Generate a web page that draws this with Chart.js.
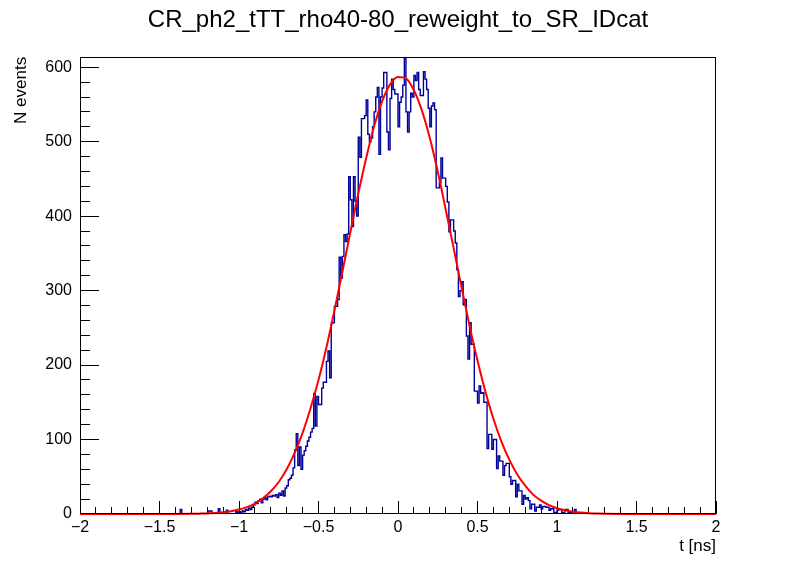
<!DOCTYPE html>
<html>
<head>
<meta charset="utf-8">
<script src="https://cdn.jsdelivr.net/npm/chart.js@4.4.1/dist/chart.umd.min.js"></script>
<style>
  html, body { margin: 0; padding: 0; background: #fff; }
  #wrap { width: 796px; height: 572px; }
</style>
</head>
<body>
<div id="wrap"><canvas id="c" width="796" height="572"></canvas></div>
<script>
const TITLE = 'CR_ph2_tTT_rho40-80_reweight_to_SR_IDcat';
const X_TITLE = 't [ns]';
const Y_TITLE = 'N events';

// histogram: bins of 0.01 ns over [-2, 2]; bins outside the listed run are empty
const X_MIN = -2, X_MAX = 2, Y_MAX = 614;
const BIN_WIDTH = 0.01;
const FIRST_FILLED_BIN = -1.40;
const counts = [
    0, 0, 0, 6, 0, 0, 0, 0, 0, 0,                       // -1.40
    0, 0, 0, 0, 0, 0, 0, 0, 0, 0,                       // -1.30
    0, 4, 4, 0, 0, 0, 0, 7, 0, 0,                       // -1.20
    0, 0, 5, 0, 0, 0, 0, 0, 3, 0,                       // -1.10
    3, 0, 4, 3, 6, 5, 8, 6, 9, 12,                      // -1.00
    16, 14, 18, 20, 15, 20, 22, 19, 23, 24,             // -0.90
    23, 25, 24, 26, 22, 28, 25, 31, 24, 35,             // -0.80
    38, 46, 48, 52, 62, 86, 108, 65, 90, 60,            // -0.70
    79, 85, 91, 98, 103, 110, 115, 162, 118, 158,       // -0.60
    147, 147, 169, 177, 177, 205, 219, 183, 256, 257,   // -0.50
    279, 279, 288, 345, 317, 346, 375, 366, 376, 453,   // -0.40
    422, 386, 453, 420, 400, 506, 479, 531, 531, 535,   // -0.30
    556, 510, 500, 505, 520, 540, 560, 573, 483, 560,   // -0.20
    572, 593, 593, 513, 489, 558, 584, 570, 564, 564,   // -0.10
    520, 553, 560, 576, 613, 540, 513, 540, 565, 560,   //  0.00
    589, 582, 593, 570, 562, 562, 594, 584, 570, 545,   //  0.10
    520, 548, 552, 543, 438, 438, 445, 478, 451, 451,   //  0.20
    440, 419, 379, 395, 395, 380, 364, 328, 292, 300,   //  0.30
    312, 281, 288, 239, 208, 257, 228, 228, 165, 165,   //  0.40
    149, 172, 162, 163, 150, 150, 88, 107, 107, 87,     //  0.50
    100, 100, 61, 78, 71, 71, 52, 65, 68, 68,           //  0.60
    50, 40, 45, 45, 23, 40, 31, 31, 13, 25,             //  0.70
    20, 22, 18, 7, 13, 13, 4, 9, 9, 12,                 //  0.80
    7, 10, 10, 9, 9, 5, 7, 7, 2, 2,                     //  0.90
    5, 6, 6, 2, 0, 6, 6, 0, 2, 0,                       //  1.00
    0, 6, 0, 0, 0                                       //  1.10
];

// red fit curve
const fitT = [-2, -1.6, -1.4, -1.3, -1.25, -1.2, -1.15, -1.1, -1.05, -1, -0.95, -0.9, -0.85, -0.8,
    -0.75, -0.7, -0.65, -0.6, -0.55, -0.5, -0.45, -0.4, -0.35, -0.3, -0.25, -0.2, -0.15, -0.1, -0.05,
    0, 0.05, 0.1, 0.15, 0.2, 0.25, 0.3, 0.35, 0.4, 0.45, 0.5, 0.55, 0.6, 0.65, 0.7, 0.75, 0.8, 0.85,
    0.9, 0.95, 1, 1.05, 1.1, 1.15, 1.2, 1.25, 1.3, 1.4, 1.6, 2];
const fitV = [0, 0, 0.1, 0.3, 0.5, 0.8, 1.4, 2.3, 3.8, 6, 9.3, 14, 21, 30.5,
    43, 60, 82, 109, 142, 180, 224, 273, 325, 378, 430, 478, 521, 554, 577,
    587, 585, 569, 542, 505, 460, 409, 357, 304, 253, 206, 164, 128, 97.5, 73, 53, 38, 26,
    18, 12, 7.8, 5, 3.1, 1.9, 1.1, 0.6, 0.35, 0.1, 0, 0];

const xMajorTicks = [-2, -1.5, -1, -0.5, 0, 0.5, 1, 1.5, 2];
const yMajorTicks = [0, 100, 200, 300, 400, 500, 600];

const HIST_COLOR = '#000099';
const FIT_COLOR = '#ff0000';
const FONT = "'Liberation Sans', Arial, Helvetica, sans-serif";

// build histogram outline points at the low edge of every bin
const nBins = Math.round((X_MAX - X_MIN) / BIN_WIDTH);
const firstIdx = Math.round((FIRST_FILLED_BIN - X_MIN) / BIN_WIDTH);
const histPoints = [];
for (let i = 0; i < nBins; i++) {
    const k = i - firstIdx;
    const v = (k >= 0 && k < counts.length) ? counts[k] : 0;
    histPoints.push({ x: X_MIN + i * BIN_WIDTH, y: v });
}
histPoints.push({ x: X_MAX, y: histPoints[histPoints.length - 1].y });

const fitPoints = fitT.map((t, i) => ({ x: t, y: fitV[i] }));

function fmtX(v) {
    if (v === 0) return '0';
    return (v < 0 ? '\u2212' : '') + Math.abs(v);
}

const frame = {
    id: 'frame',
    afterDraw(chart) {
        const { ctx, chartArea: a } = chart;
        ctx.save();
        ctx.strokeStyle = '#000';
        ctx.lineWidth = 1;
        ctx.strokeRect(Math.round(a.left) + 0.5, Math.round(a.top) + 0.5,
            Math.round(a.right - a.left) - 1, Math.round(a.bottom - a.top) - 1);
        ctx.restore();
    }
};

Chart.defaults.font.family = FONT;
Chart.defaults.color = '#000';

new Chart(document.getElementById('c'), {
    type: 'line',
    data: {
        datasets: [
            {
                label: 'fit', data: fitPoints, order: 0, clip: 4,
                borderColor: FIT_COLOR, borderWidth: 2, pointRadius: 0,
                cubicInterpolationMode: 'monotone', xAxisID: 'x', yAxisID: 'y'
            },
            {
                label: 'hist', data: histPoints, order: 1,
                borderColor: HIST_COLOR, borderWidth: 1.4, pointRadius: 0,
                stepped: true, xAxisID: 'x', yAxisID: 'y'
            }
        ]
    },
    options: {
        responsive: false,
        animation: false,
        devicePixelRatio: 1,
        layout: { padding: 0 },
        plugins: {
            legend: { display: false },
            tooltip: { enabled: false },
            title: {
                display: true, text: TITLE, color: '#000',
                font: { size: 24, weight: 'normal', family: FONT },
                padding: { top: 6, bottom: 22 }
            }
        },
        scales: {
            xm: {
                type: 'linear', position: 'bottom', weight: 0,
                min: X_MIN, max: X_MAX,
                ticks: { display: false, stepSize: 0.1 },
                grid: { drawOnChartArea: false, drawTicks: true, tickLength: -7, color: '#000' },
                border: { display: false },
                afterFit: s => { s.height = 0; }
            },
            x: {
                type: 'linear', position: 'bottom', weight: 1,
                min: X_MIN, max: X_MAX,
                afterBuildTicks: s => { s.ticks = xMajorTicks.map(v => ({ value: v })); },
                ticks: { autoSkip: false, maxRotation: 0, padding: 17, font: { size: 16 }, callback: fmtX },
                grid: { drawOnChartArea: false, drawTicks: true, tickLength: -13, color: '#000' },
                border: { display: false },
                title: {
                    display: true, text: X_TITLE, align: 'end',
                    font: { size: 17 }, padding: { top: 0, bottom: 15 }
                },
                afterFit: s => { s.height = 58; }
            },
            ym: {
                type: 'linear', position: 'left', weight: 0,
                min: 0, max: Y_MAX, bounds: 'data',
                afterBuildTicks: s => { s.ticks = s.ticks.filter(t => t.value <= 600); },
                ticks: { display: false, stepSize: 20, includeBounds: false },
                grid: { drawOnChartArea: false, drawTicks: true, tickLength: -10, color: '#000' },
                border: { display: false },
                afterFit: s => { s.width = 0; }
            },
            y: {
                type: 'linear', position: 'left', weight: 1,
                min: 0, max: Y_MAX, bounds: 'data',
                afterBuildTicks: s => { s.ticks = yMajorTicks.map(v => ({ value: v })); },
                ticks: { autoSkip: false, padding: 27, font: { size: 16 } },
                grid: { drawOnChartArea: false, drawTicks: true, tickLength: -19, color: '#000' },
                border: { display: false },
                title: {
                    display: true, text: Y_TITLE, align: 'end',
                    font: { size: 17 }, padding: { top: 11, bottom: 0 }
                },
                afterFit: s => { s.width = 80; }
            },
            // empty right-hand margin so the title centres on the whole canvas
            yr: {
                type: 'linear', position: 'right',
                min: 0, max: Y_MAX,
                ticks: { display: false },
                grid: { display: false },
                border: { display: false },
                afterFit: s => { s.width = 80; }
            }
        }
    },
    plugins: [frame]
});
</script>
</body>
</html>
